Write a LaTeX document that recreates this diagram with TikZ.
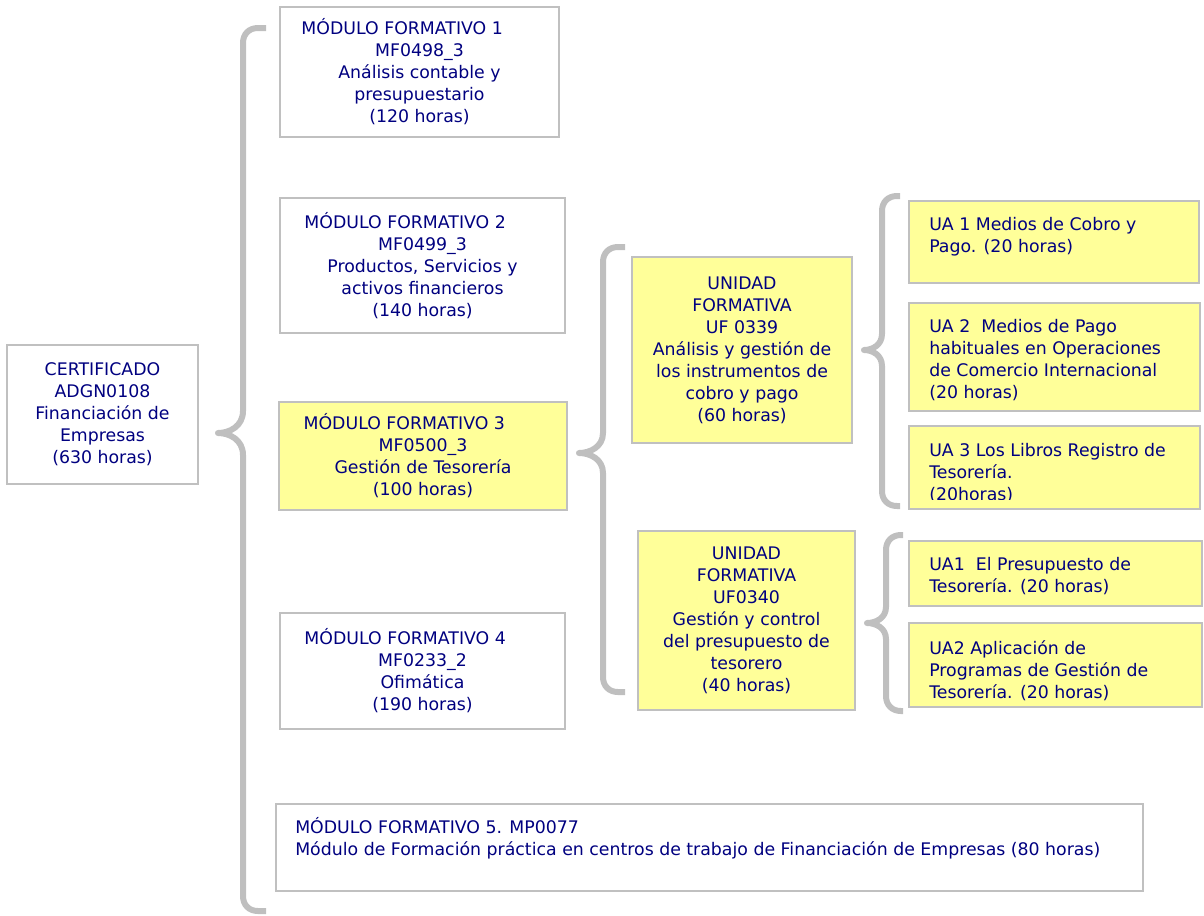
\documentclass[tikz,border=0pt]{standalone}
\usepackage{fontspec}
\setmainfont{DejaVu Sans}
\definecolor{txt}{RGB}{0,0,128}
\definecolor{bord}{RGB}{192,192,192}
\definecolor{yel}{RGB}{255,255,153}
\definecolor{brc}{RGB}{191,191,191}
\newcommand\bx[7]{\node[#6, minimum width={(#4-#2)*0.75pt}, minimum height={(#5-#3)*0.75pt}] (#1) at ({(#2+#4)/2},{(#3+#5)/2}) {#7};}
% #1 xv, #2 xtip, #3 xend, #4 ytop, #5 ymid, #6 ybot, #7 h ; curl radius 15
\newcommand\mybrace[7]{\draw[bracestyle] (#3,#4) -- ({#1+15},#4) .. controls ({#1+6},#4) and (#1,{#4+6}) .. (#1,{#4+15})
  -- (#1,{#5-#7}) .. controls (#1,{#5-0.3*#7}) and ({#2+0.45*(#1-#2)},#5) .. (#2,#5)
  .. controls ({#2+0.45*(#1-#2)},#5) and (#1,{#5+0.3*#7}) .. (#1,{#5+#7})
  -- (#1,{#6-15}) .. controls (#1,{#6-6}) and ({#1+6},#6) .. ({#1+15},#6) -- (#3,#6);}
\begin{document}
\begin{tikzpicture}[x=0.75pt,y=-0.75pt,
  box/.style={draw=bord, line width=1.5pt, fill=white, inner sep=0pt, text=txt, align=center,
    font=\fontsize{13}{16.5}\selectfont},
  ybox/.style={box, fill=yel},
  ltext/.style={text=txt, align=left, anchor=north west, inner sep=0pt,
    font=\fontsize{13}{16.5}\selectfont},
  bracestyle/.style={draw=brc, line width=4.5pt, line join=round}]
\useasboundingbox (0,0) rectangle (1204,915);

\mybrace{243}{218}{266}{28}{433}{911}{22}
\mybrace{603}{579}{625}{247}{453}{692}{20}
\mybrace{882}{864}{900}{196}{350}{506}{16}
\mybrace{886}{867}{903}{535}{623}{711}{16}

\bx{cert}{7}{345}{198}{484}{box}{CERTIFICADO\\ADGN0108\\Financiación de\\Empresas\\(630 horas)}
\bx{mf1}{280}{7}{559}{137}{box}{MÓDULO FORMATIVO 1\hspace*{26pt}\\MF0498\_3\\Análisis contable y\\presupuestario\\(120 horas)}
\bx{mf2}{280}{198}{565}{333}{box}{MÓDULO FORMATIVO 2\hspace*{26pt}\\MF0499\_3\\Productos, Servicios y\\activos financieros\\(140 horas)}
\bx{mf3}{279}{402}{567}{510}{ybox}{MÓDULO FORMATIVO 3\hspace*{28pt}\\MF0500\_3\\Gestión de Tesorería\\(100 horas)}
\bx{mf4}{280}{613}{565}{729}{box}{MÓDULO FORMATIVO 4\hspace*{26pt}\\MF0233\_2\\Ofimática\\(190 horas)}
\bx{mf5}{276}{804}{1143}{891}{box}{}
\bx{uf1}{632}{257}{852}{443}{ybox}{UNIDAD\\FORMATIVA\\UF 0339\\Análisis y gestión de\\los instrumentos de\\cobro y pago\\(60 horas)}
\bx{uf2}{638}{531}{855}{710}{ybox}{UNIDAD\\FORMATIVA\\UF0340\\Gestión y control\\del presupuesto de\\tesorero\\(40 horas)}
\bx{ua1}{909}{201}{1199}{283}{ybox}{}
\bx{ua2}{909}{303}{1200}{411}{ybox}{}
\bx{ua3}{909}{426}{1200}{509}{ybox}{}
\bx{ub1}{909}{541}{1202}{606}{ybox}{}
\bx{ub2}{909}{623}{1202}{707}{ybox}{}

\node[ltext] (mf5t) at ([shift={(20,14)}]mf5.north west) {MÓDULO FORMATIVO 5. MP0077\\Módulo de Formación práctica en centros de trabajo de Financiación de Empresas (80 horas)};
\node[ltext] (ua1t) at ([shift={(21,17)}]ua1.north west) {UA 1 Medios de Cobro y\\Pago. (20 horas)};
\node[ltext] (ua2t) at ([shift={(21,17)}]ua2.north west) {UA 2~ Medios de Pago\\habituales en Operaciones\\de Comercio Internacional\\(20 horas)};
\begin{scope}
\clip (909,426) rectangle (1200,499);
\node[ltext] (ua3t) at ([shift={(21,18)}]ua3.north west) {UA 3 Los Libros Registro de\\Tesorería.\\(20horas)};
\end{scope}
\node[ltext] (ub1t) at ([shift={(21,17)}]ub1.north west) {UA1~ El Presupuesto de\\Tesorería. (20 horas)};
\node[ltext] (ub2t) at ([shift={(21,18)}]ub2.north west) {UA2 Aplicación de\\Programas de Gestión de\\Tesorería. (20 horas)};
\end{tikzpicture}
\end{document}
